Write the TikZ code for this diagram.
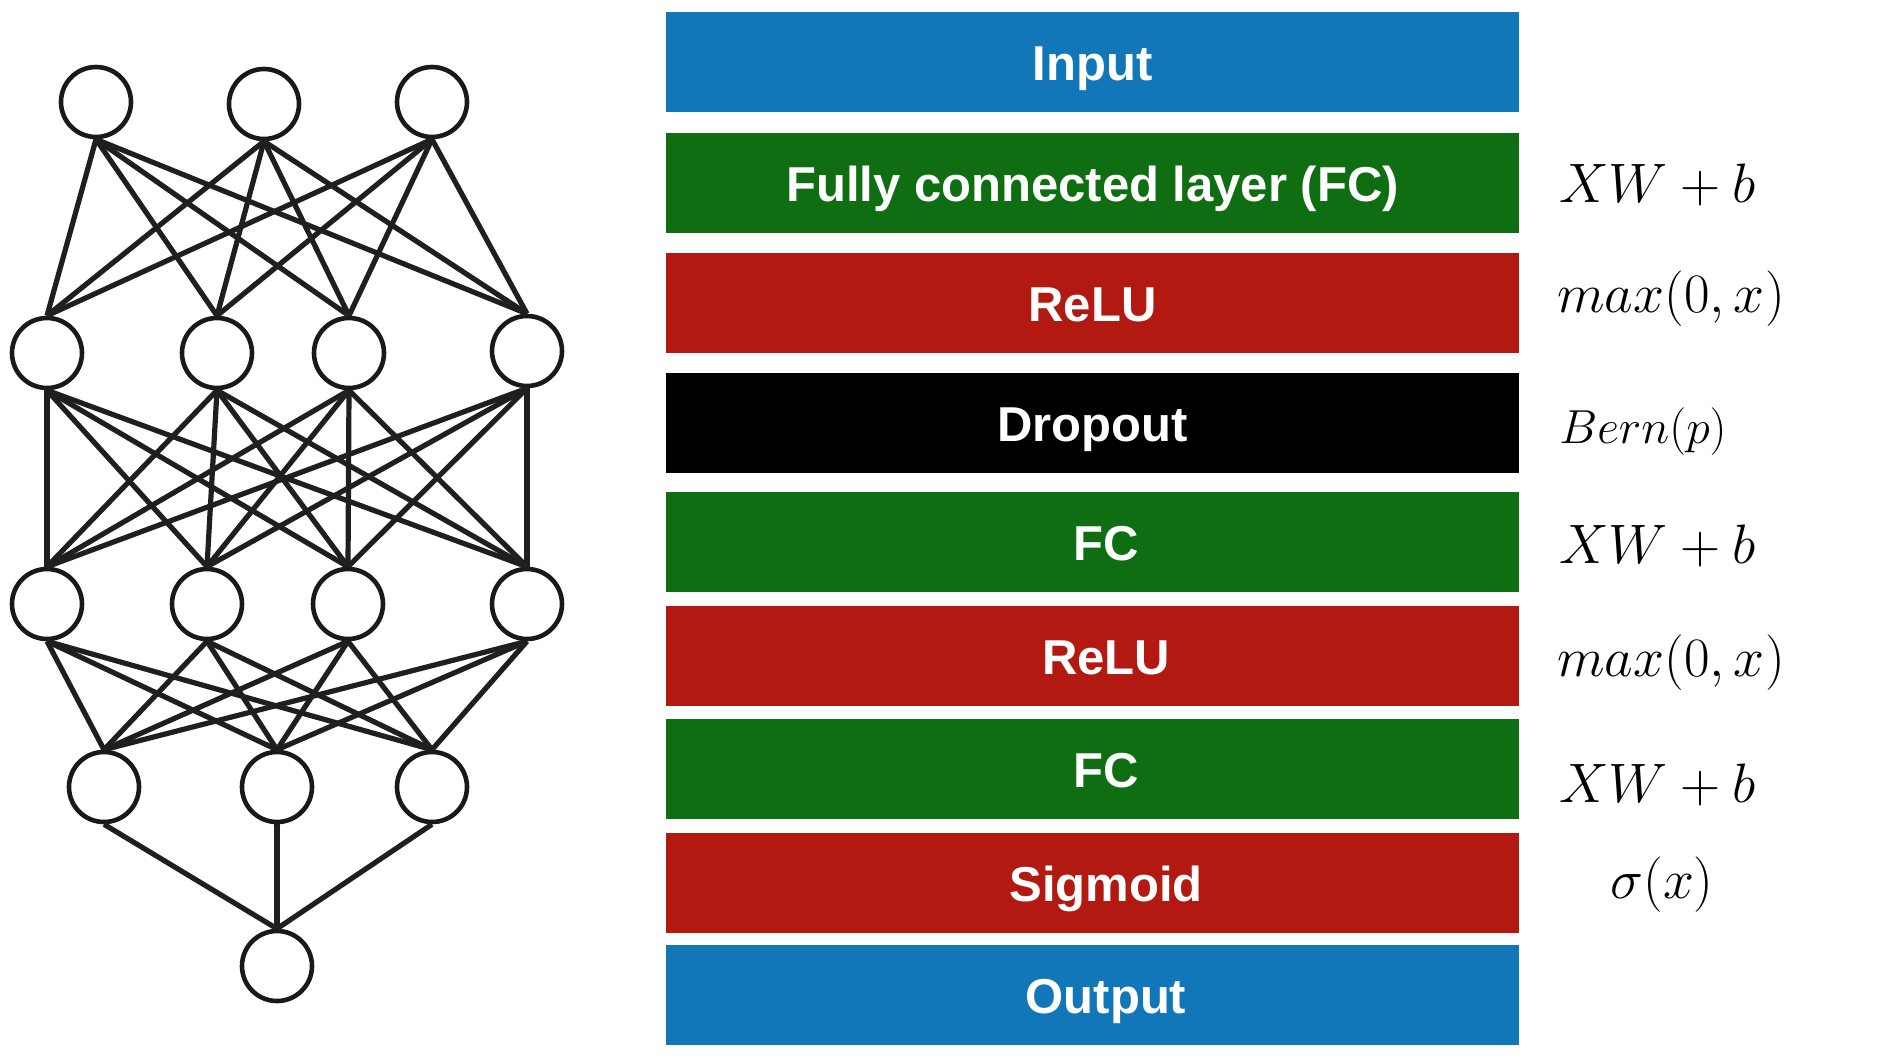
\documentclass[tikz,border=0pt]{standalone}
\usepackage{fontspec}
\setsansfont{Liberation Sans}
\definecolor{inblue}{RGB}{18,119,185}
\definecolor{fcgreen}{RGB}{14,110,17}
\definecolor{relured}{RGB}{178,26,17}
\newcommand{\formulabox}[2][1.117]{\scalebox{#1}{$#2$}}
\tikzset{
  neuron/.style={circle, draw=black!90, line width=2.3pt, minimum size=35pt, inner sep=0pt},
  wire/.style={line width=2.6pt, color=black!88},
  layer/.style={rectangle, minimum width=426.5pt, minimum height=50pt, inner sep=0pt},
  layertext/.style={anchor=base, text=white, font=\sffamily\bfseries\fontsize{24.5}{29}\selectfont},
  formula/.style={anchor=base west, inner sep=0pt, font=\fontsize{24.88}{30}\selectfont}
}
\begin{document}
\begin{tikzpicture}[x=0.5pt, y=-0.5pt]
			%%%%% START %%%%%
			\useasboundingbox (0,0) rectangle (1896,1056);
			
			\node[neuron] (a1) at (96, 102) {};
			\node[neuron] (a2) at (264, 104) {};
			\node[neuron] (a3) at (432, 102) {};
			
			\node[neuron] (b1) at (47, 353) {};
			\node[neuron] (b2) at (217, 353) {};
			\node[neuron] (b3) at (349, 353) {};
			\node[neuron] (b4) at (527, 351) {};
			
			\node[neuron] (c1) at (47, 604) {};
			\node[neuron] (c2) at (207, 604) {};
			\node[neuron] (c3) at (348, 604) {};
			\node[neuron] (c4) at (527, 604) {};
			
			\node[neuron] (d1) at (104, 787) {};
			\node[neuron] (d2) at (277, 787) {};
			\node[neuron] (d3) at (432, 787) {};
			
			\node[neuron] (e1) at (277, 966) {};
			
			\foreach \i in {1,2,3} {\foreach \j in {1,2,3,4} {\draw[wire] (a\i.south) -- (b\j.north);}}
			\foreach \i in {1,2,3,4} {\foreach \j in {1,2,3,4} {\draw[wire] (b\i.south) -- (c\j.north);}}
			\foreach \i in {1,2,3,4} {\foreach \j in {1,2,3} {\draw[wire] (c\i.south) -- (d\j.north);}}
			\foreach \i in {1,2,3} {\draw[wire] (d\i.south) -- (e1.north);}
			
			\node[layer, fill=inblue] (input) at (1092.5, 62) {};
			\node[layer, fill=fcgreen] (fc1) at (1092.5, 183) {};
			\node[layer, fill=relured] (relu1) at (1092.5, 303) {};
			\node[layer, fill=black] (drop) at (1092.5, 423) {};
			\node[layer, fill=fcgreen] (fc2) at (1092.5, 542) {};
			\node[layer, fill=relured] (relu2) at (1092.5, 656) {};
			\node[layer, fill=fcgreen] (fc3) at (1092.5, 769) {};
			\node[layer, fill=relured] (sig) at (1092.5, 883) {};
			\node[layer, fill=inblue] (output) at (1092.5, 995) {};
			
			\node[layertext] (inputtext) at (1092.5, 80) {Input};
			\node[layertext] (fc1text) at (1092.5, 201) {Fully connected layer (FC)};
			\node[layertext] (relu1text) at (1092.5, 321) {ReLU};
			\node[layertext] (droptext) at (1092.5, 441) {Dropout};
			\node[layertext] (fc2text) at (1106, 560) {FC};
			\node[layertext] (relu2text) at (1106, 674) {ReLU};
			\node[layertext] (fc3text) at (1106, 787) {FC};
			\node[layertext] (sigtext) at (1106, 901) {Sigmoid};
			\node[layertext] (outputtext) at (1106, 1013) {Output};
			
			\node[formula] (fc1eq) at (1559, 202) {\formulabox{XW+b}};
			\node[formula] (relu1eq) at (1557, 312) {\formulabox{max(0,x)}};
			\node[formula] (dropeq) at (1559, 443) {\formulabox[0.96]{Bern(p)}};
			\node[formula] (fc2eq) at (1559, 563) {\formulabox{XW+b}};
			\node[formula] (relu2eq) at (1557, 676) {\formulabox{max(0,x)}};
			\node[formula] (fc3eq) at (1559, 802) {\formulabox{XW+b}};
			\node[formula] (sigeq) at (1610, 898) {\formulabox{\sigma(x)}};
			
			%%%%% END %%%%%
\end{tikzpicture}
\end{document}
